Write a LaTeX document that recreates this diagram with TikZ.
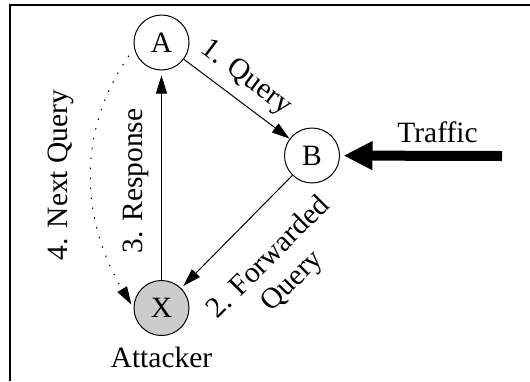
\documentclass[tikz,border=0pt]{standalone}
\usepackage{fontspec}
\setmainfont{Liberation Serif}[Ligatures=NoCommon]
\usetikzlibrary{arrows.meta}
\begin{document}
\begin{tikzpicture}[x=1pt,y=1pt,
  font=\fontsize{29.5}{33}\selectfont,
  stnode/.style={circle,draw,line width=1pt,minimum size=55pt,inner sep=0pt},
  conn/.style={line width=1pt,-{Triangle[length=18pt,width=11pt]}},
  nextq/.style={line width=1pt,dash pattern=on 1.5pt off 8.5pt,-{Triangle[length=18pt,width=11pt]}},
  trafficarrow/.style={line width=10pt,-{Triangle[length=29pt,width=27pt]}},
  lbl/.style={inner sep=0pt}]
\useasboundingbox (0,0) rectangle (530,-381);
\draw[line width=1.2pt] (10,-381) -- (10,-5) -- (530,-5);
\node[stnode] (A) at (161.5,-42.5) {A};
\node[stnode] (B) at (312,-155.5) {B};
\node[stnode,fill=black!20] (X) at (161.5,-308) {X};
\coordinate (T) at (502,-156);
\draw[conn] (A) -- (B);
\draw[conn,shorten >=3pt] (B) -- (X);
\draw[conn,shorten >=5pt] (X) -- (A);
\draw[nextq,shorten <=9pt,shorten >=4pt] (A.192) to[out=235,in=121] (X.west);
\draw[trafficarrow,shorten >=3.5pt] (T) -- (B);
\node[lbl,rotate=-37] (l1) at (246,-78) {1. Query};
\node[lbl,rotate=45,align=center] (l2) at (281,-270) {2. Forwarded\\Query};
\node[lbl,rotate=90] (l3) at (136,-181) {3. Response};
\node[lbl,rotate=90] (l4) at (61,-175) {4. Next Query};
\node[lbl,anchor=base] (atk) at (161.5,-367) {Attacker};
\node[lbl,anchor=base] (tr) at (437.5,-142) {Traffic};
\end{tikzpicture}
\end{document}
